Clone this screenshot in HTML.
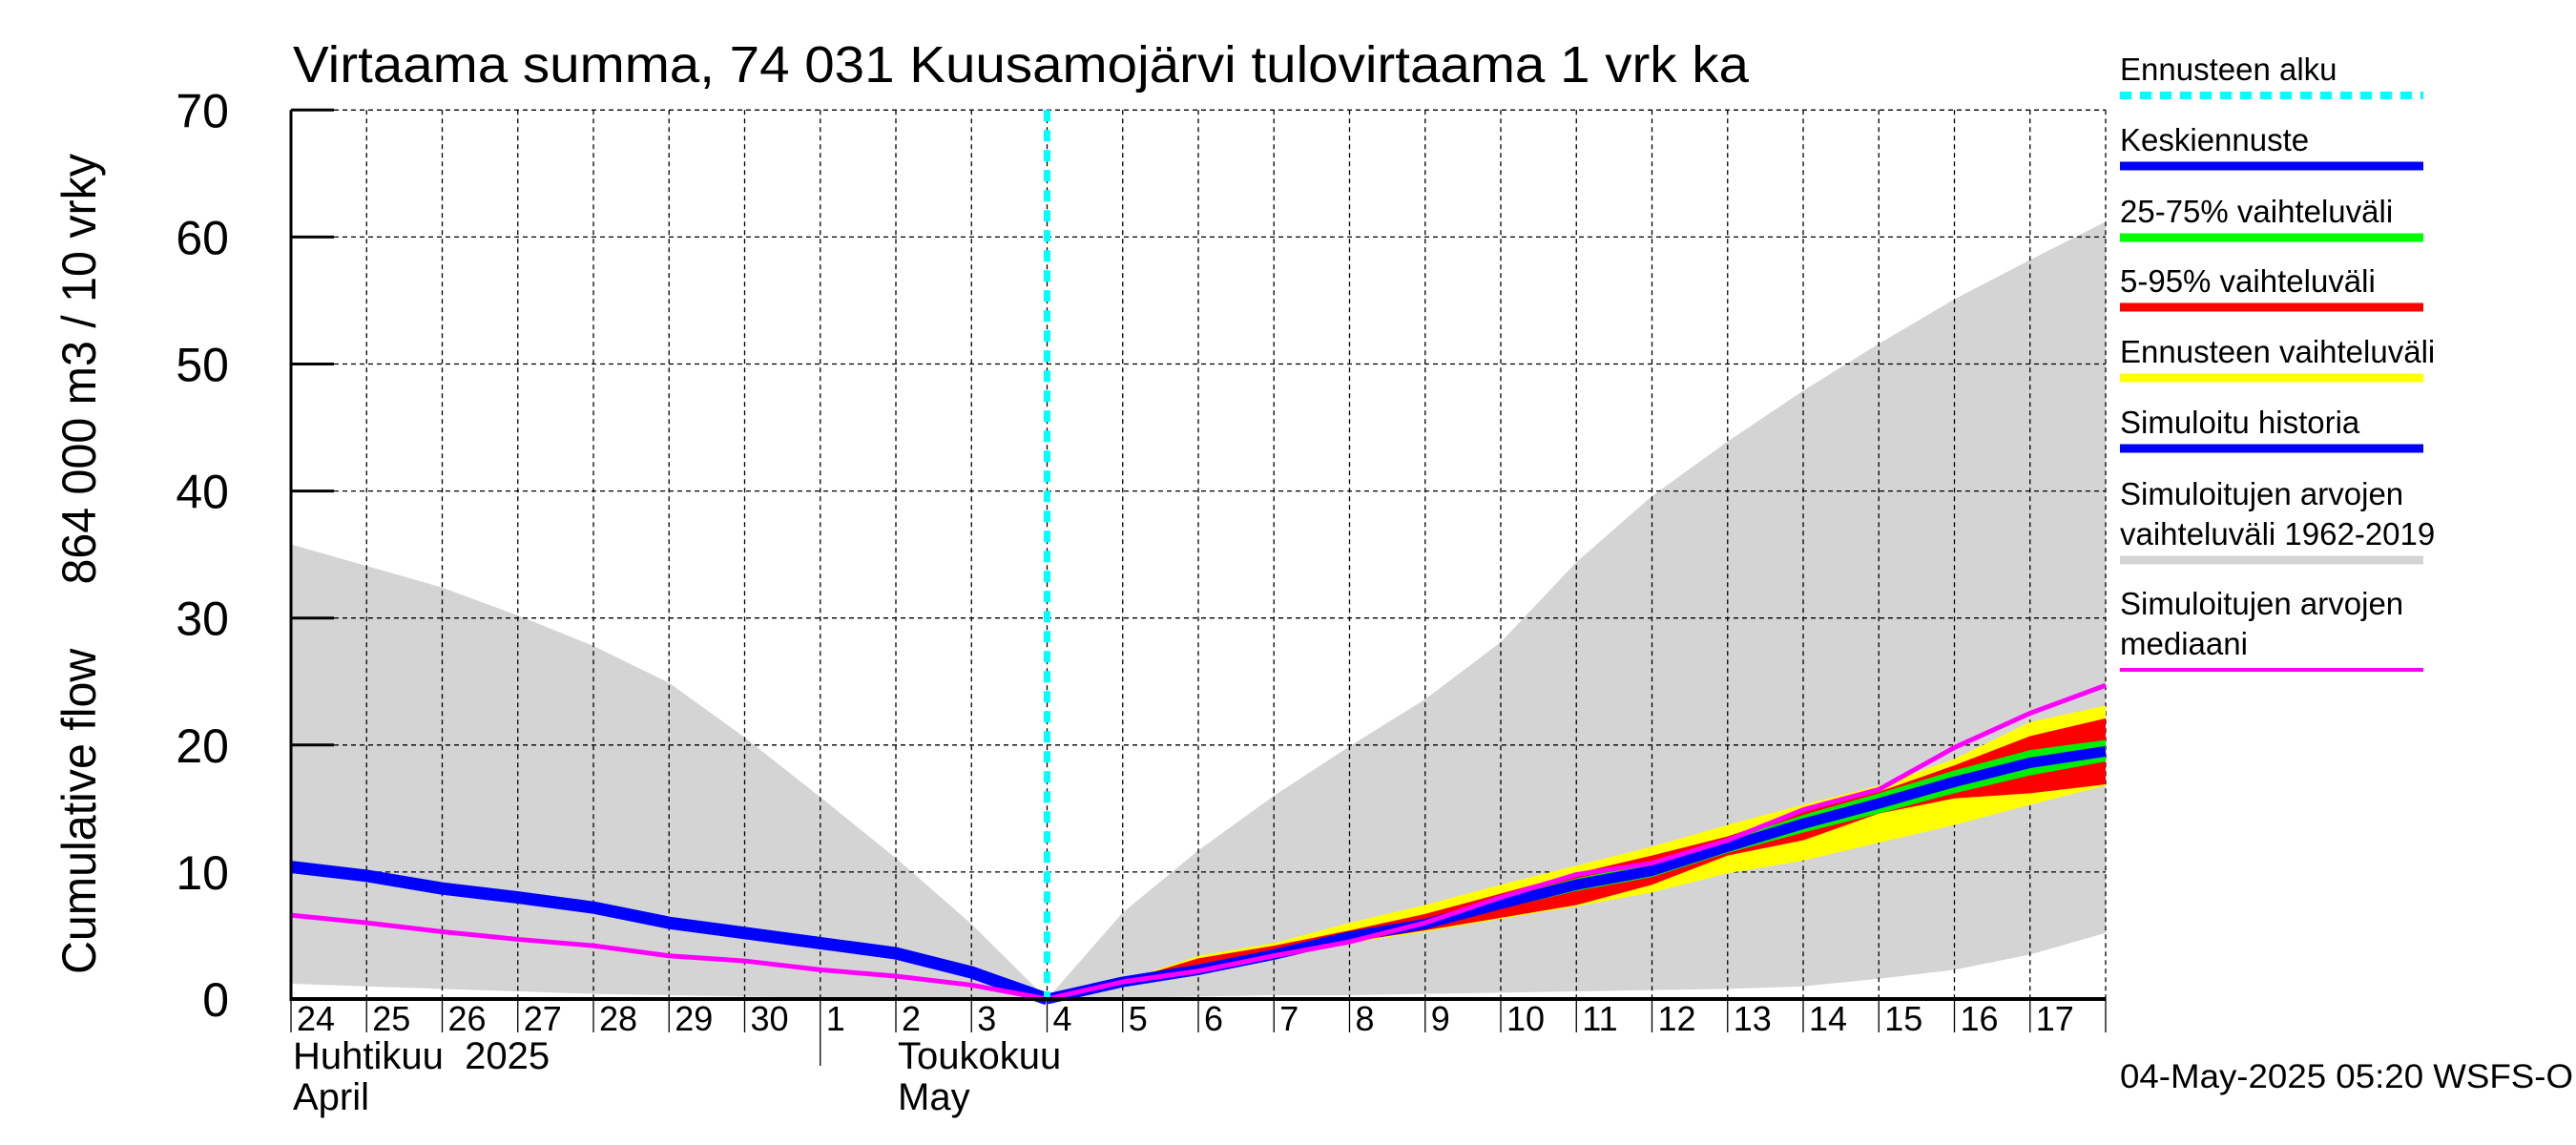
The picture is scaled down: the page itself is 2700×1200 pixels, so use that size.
<!DOCTYPE html>
<html><head><meta charset="utf-8"><style>
html,body{margin:0;padding:0;background:#fff;}
svg{display:block;font-family:"Liberation Sans",sans-serif;}
text{white-space:pre;}
</style></head><body>
<svg id="chart" width="2700" height="1200" viewBox="0 0 2700 1200" xmlns="http://www.w3.org/2000/svg">
<text x="307" y="86" font-size="54" textLength="1526" lengthAdjust="spacingAndGlyphs">Virtaama summa, 74 031 Kuusamojärvi tulovirtaama 1 vrk ka</text>
<text transform="translate(100,1021) rotate(-90)" font-size="50" textLength="860" lengthAdjust="spacingAndGlyphs" style="white-space:pre">Cumulative flow     864 000 m3 / 10 vrky</text>
<g id="plot"></g>
<g id="legend"></g>
<text x="2222" y="1140" font-size="35" textLength="475" lengthAdjust="spacingAndGlyphs">04-May-2025 05:20 WSFS-O</text>
</svg>
<script>
// Data (x = days since 24 April; y = cumulative flow)
const dayLabels = ["24","25","26","27","28","29","30","1","2","3","4","5","6","7","8","9","10","11","12","13","14","15","16","17"];
const yTicks = [0,10,20,30,40,50,60,70];
const histDays = [0,1,2,3,4,5,6,7,8,9,10];
const histGrayHi = [35.8,34.1,32.4,30.2,27.8,24.9,20.6,15.9,11.1,5.9,0];
const histGrayLo = [1.2,1.0,0.8,0.6,0.4,0.3,0.2,0.1,0.05,0,0];
const histSim = [10.4,9.7,8.7,8.0,7.2,6.0,5.2,4.4,3.6,2.1,0];
const histMedian = [6.6,6.0,5.3,4.7,4.2,3.4,3.0,2.3,1.8,1.1,0];
const fcDays = [10,11,12,13,14,15,16,17,18,19,20,21,22,23,24];
const fcGrayHi = [0,6.8,11.7,16.0,19.9,23.6,28.1,34.4,39.6,43.9,47.9,51.6,55.1,58.2,61.2];
const fcGrayLo = [0,0.1,0.2,0.3,0.3,0.4,0.5,0.6,0.7,0.8,1.0,1.6,2.3,3.5,5.2];
const fcMedian = [0,1.35,2.2,3.4,4.5,6.0,8.0,9.8,10.7,12.5,14.9,16.5,19.8,22.5,24.7];
const fcMean = [0,1.35,2.3,3.5,4.9,5.9,7.5,9.0,10.1,12.0,13.8,15.4,17.1,18.6,19.5];
const fcYelHi = [0,1.4,3.4,4.4,6.0,7.4,9.0,10.5,12.0,13.7,15.3,16.8,18.9,21.8,23.1];
const fcYelLo = [0,1.3,2.2,3.3,4.4,5.3,6.3,7.3,8.4,9.9,10.9,12.3,13.7,15.3,16.8];
const fcRedHi = [0,1.4,3.2,4.2,5.4,6.7,8.3,9.9,11.3,12.8,14.8,16.3,18.4,20.7,22.1];
const fcRedLo = [0,1.3,2.3,3.4,4.5,5.4,6.4,7.4,9.0,11.3,12.5,14.6,15.8,16.2,16.9];
const fcGreenHi = [0,1.4,2.7,3.9,5.2,6.3,7.9,9.5,10.7,12.5,14.5,16.2,18.0,19.6,20.4];
const fcGreenLo = [0,1.3,2.1,3.2,4.6,5.5,7.1,8.5,9.6,11.5,13.1,14.6,16.2,17.6,18.7];
const forecastStart = 10;

const X0=305, DW=79.25, Y0=1047, YU=13.31, XMAX=24;
const sx = d => X0 + d*DW;
const sy = v => Y0 - v*YU;
const NS="http://www.w3.org/2000/svg";
const plot=document.getElementById('plot');
function mk(tag, attrs, parent){const e=document.createElementNS(NS,tag);for(const k in attrs)e.setAttribute(k,attrs[k]);(parent||plot).appendChild(e);return e;}
function band(xs,hi,lo,fill,name){
  let p=xs.map((d,i)=>sx(d)+','+sy(hi[i]));
  for(let i=xs.length-1;i>=0;i--)p.push(sx(xs[i])+','+sy(lo[i]));
  const e=mk('polygon',{points:p.join(' '),fill:fill});
  
  
}
function line(xs,ys,stroke,w,name){
  const e=mk('polyline',{points:xs.map((d,i)=>sx(d)+','+sy(ys[i])).join(' '),fill:'none',stroke:stroke,'stroke-width':w,'stroke-linejoin':'round'});
  
  
}
band(histDays,histGrayHi,histGrayLo,'#d4d4d4','history-range-band');
band(fcDays,fcGrayHi,fcGrayLo,'#d4d4d4','forecast-history-range-band');
for(let d=0; d<=XMAX; d++){
  const g=mk('line',{x1:sx(d),x2:sx(d),y1:sy(70),y2:Y0,stroke:'#000','stroke-width':1.3,'stroke-dasharray':'5,4'});
  
  
  const t=mk('line',{x1:sx(d),x2:sx(d),y1:Y0,y2:(d===7?1117:1082),stroke:'#000','stroke-width':1.3});
  
  
}
yTicks.forEach(v=>{
  if(v>0){const g=mk('line',{x1:X0,x2:sx(XMAX),y1:sy(v),y2:sy(v),stroke:'#000','stroke-width':1.3,'stroke-dasharray':'5,4'});
  
  }
  const t=mk('line',{x1:X0,x2:350,y1:sy(v),y2:sy(v),stroke:'#000','stroke-width':3});
  
  
  const l=mk('text',{x:240,y:sy(v)+18,'font-size':50,'text-anchor':'end'});
  l.textContent=v;
  
  
});
band(fcDays,fcYelHi,fcYelLo,'#ffff00','forecast-range-band');
band(fcDays,fcRedHi,fcRedLo,'#ff0000','band-5-95');
band(fcDays,fcGreenHi,fcGreenLo,'#00ee00','band-25-75');
line(histDays,histSim,'#0000ff',13,'simulated-history-line');
line(histDays,histMedian,'#ff00ff',5,'history-median-line');
line(fcDays,fcMean,'#0000ff',11,'forecast-mean-line');
line(fcDays,fcMedian,'#ff00ff',5,'forecast-median-line');
const fs=mk('line',{x1:sx(forecastStart),x2:sx(forecastStart),y1:sy(70),y2:Y0,stroke:'#00ffff','stroke-width':7,'stroke-dasharray':'12,9'});


const ax=mk('line',{x1:X0,x2:X0,y1:sy(70),y2:Y0+2,stroke:'#000','stroke-width':3});


const bx=mk('line',{x1:X0,x2:sx(XMAX),y1:Y0,y2:Y0,stroke:'#000','stroke-width':4});


dayLabels.forEach((s,i)=>{
  const t=mk('text',{x:sx(i)+6,y:1080,'font-size':36});
  t.textContent=s;
  
  
});
[["Huhtikuu  2025",307,1120],["April",307,1163],["Toukokuu",941,1120],["May",941,1163]].forEach(a=>{
  const t=mk('text',{x:a[1],y:a[2],'font-size':40});
  t.textContent=a[0];
  
  
});
const lg=document.getElementById('legend');
const legendItems=[
 [["Ennusteen alku"],100,'#00ffff',8,true],
 [["Keskiennuste"],174,'#0000ff',9],
 [["25-75% vaihteluväli"],249,'#00ff00',9],
 [["5-95% vaihteluväli"],322,'#ff0000',9],
 [["Ennusteen vaihteluväli"],396,'#ffff00',9],
 [["Simuloitu historia"],470,'#0000ff',9],
 [["Simuloitujen arvojen","vaihteluväli 1962-2019"],587,'#d4d4d4',9],
 [["Simuloitujen arvojen","mediaani"],702,'#ff00ff',4]
];
legendItems.forEach(it=>{
  const lines=it[0];
  lines.forEach((s,j)=>{
    const t=mk('text',{x:2222,y:it[1]-16-(lines.length-1-j)*42,'font-size':33},lg);
    t.textContent=s;
    
    
  });
  const a={x1:2222,x2:2540,y1:it[1],y2:it[1],stroke:it[2],'stroke-width':it[3]};
  if(it[4])a['stroke-dasharray']='12,9';
  const l=mk('line',a,lg);
  
  
});
</script>
</body></html>
